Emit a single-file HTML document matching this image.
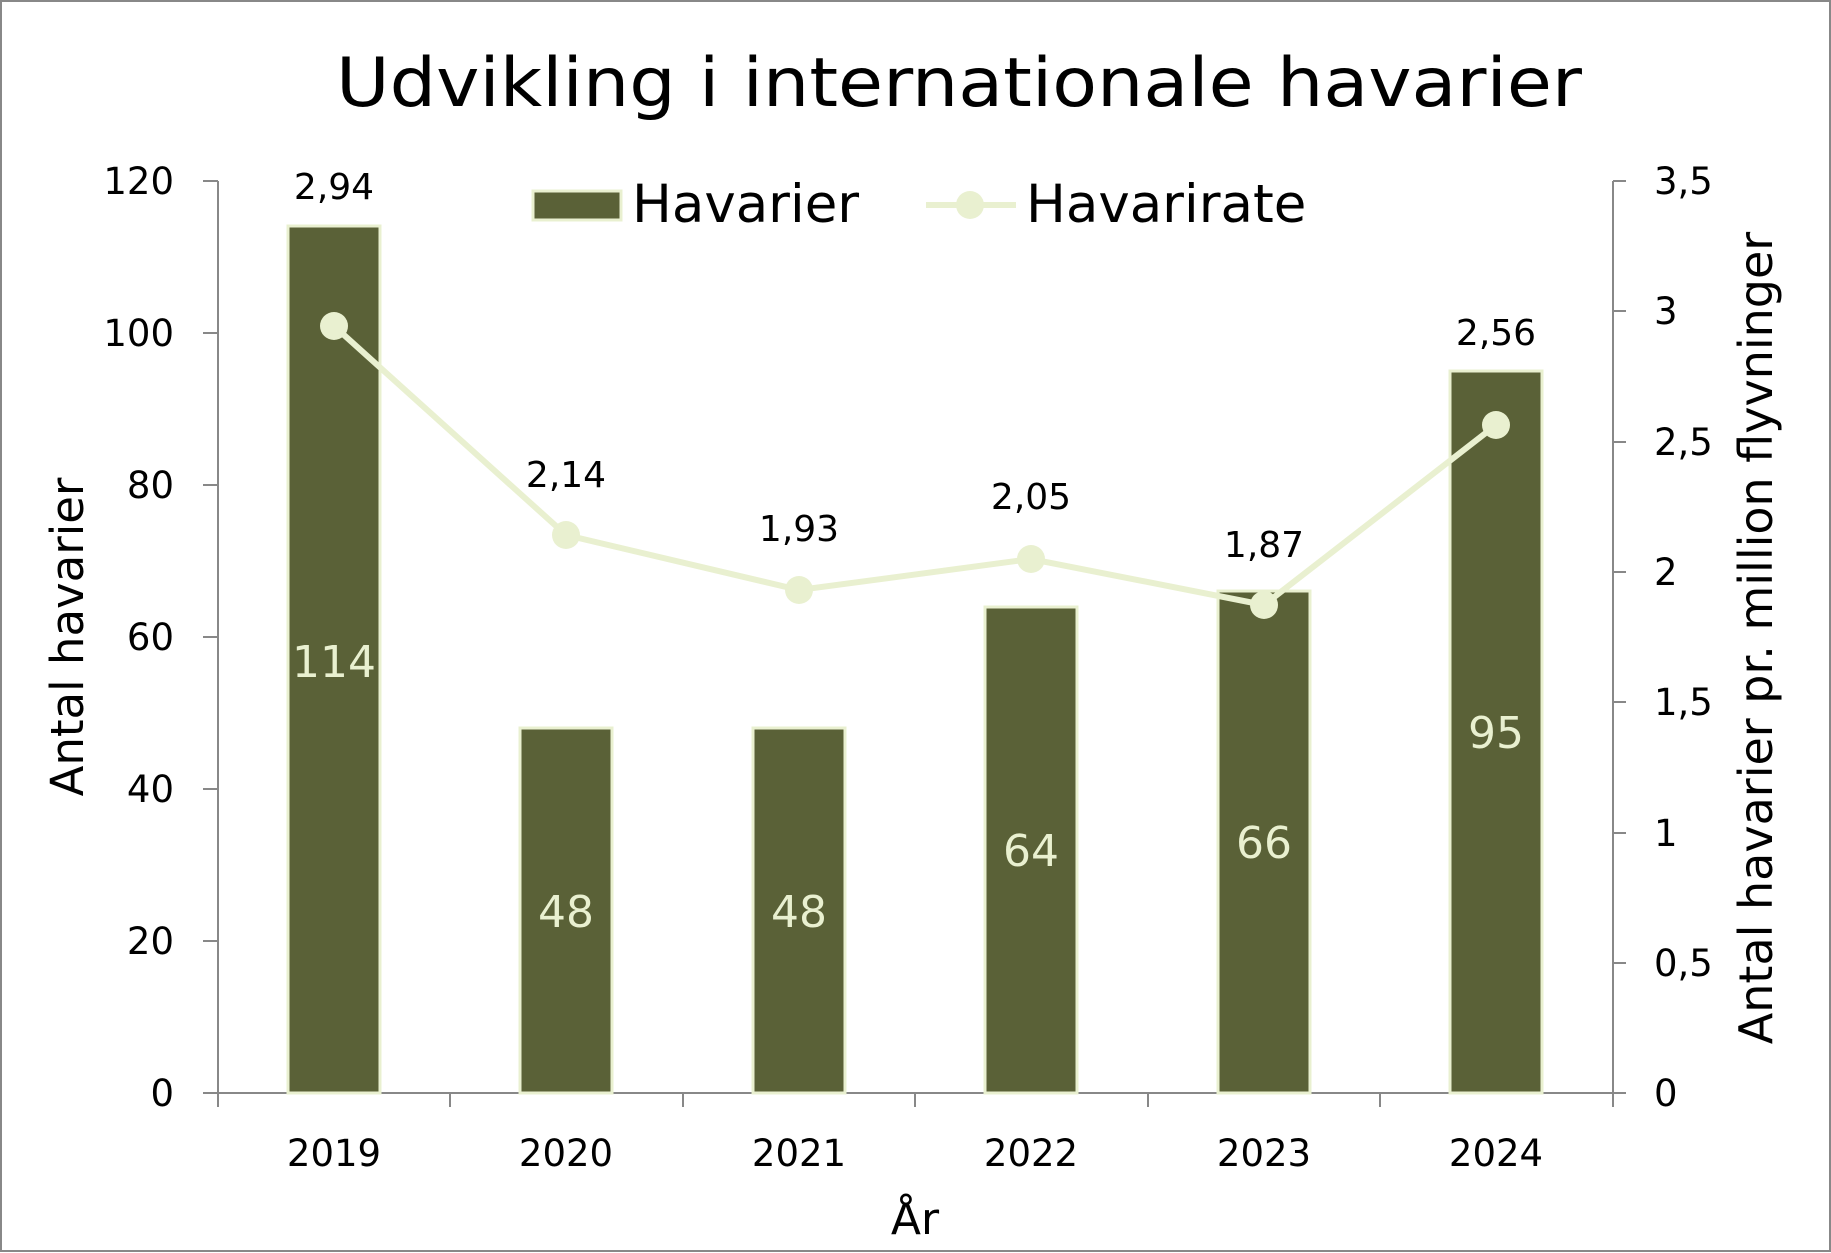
<!DOCTYPE html>
<html><head><meta charset="utf-8"><style>
html,body{margin:0;padding:0;background:#fff}
svg{display:block}
text{font-family:"DejaVu Sans","Liberation Sans",sans-serif}
</style></head><body>
<svg width="1831" height="1253" viewBox="0 0 1831 1253" xmlns="http://www.w3.org/2000/svg">
<rect x="1" y="1" width="1829" height="1250" fill="#fff" stroke="#888" stroke-width="2"/>
<text x="959" y="106" font-size="68" text-anchor="middle" textLength="1246" lengthAdjust="spacingAndGlyphs">Udvikling i internationale havarier</text>
<g stroke="#888" stroke-width="2">
<line x1="218" y1="181" x2="218" y2="1093"/>
<line x1="218" y1="1093" x2="1613" y2="1093"/>
<line x1="1613" y1="181" x2="1613" y2="1093"/>
<line x1="203" y1="1093" x2="218" y2="1093"/><line x1="203" y1="941" x2="218" y2="941"/><line x1="203" y1="789" x2="218" y2="789"/><line x1="203" y1="637" x2="218" y2="637"/><line x1="203" y1="485" x2="218" y2="485"/><line x1="203" y1="333" x2="218" y2="333"/><line x1="203" y1="181" x2="218" y2="181"/>
<line x1="1613" y1="1093" x2="1626" y2="1093"/><line x1="1613" y1="963" x2="1626" y2="963"/><line x1="1613" y1="833" x2="1626" y2="833"/><line x1="1613" y1="702" x2="1626" y2="702"/><line x1="1613" y1="572" x2="1626" y2="572"/><line x1="1613" y1="442" x2="1626" y2="442"/><line x1="1613" y1="311" x2="1626" y2="311"/><line x1="1613" y1="181" x2="1626" y2="181"/>
<line x1="218" y1="1093" x2="218" y2="1107"/><line x1="450" y1="1093" x2="450" y2="1107"/><line x1="683" y1="1093" x2="683" y2="1107"/><line x1="915" y1="1093" x2="915" y2="1107"/><line x1="1148" y1="1093" x2="1148" y2="1107"/><line x1="1380" y1="1093" x2="1380" y2="1107"/><line x1="1613" y1="1093" x2="1613" y2="1107"/>
</g>
<g font-size="37" text-anchor="end">
<text x="174" y="1106">0</text><text x="174" y="954">20</text><text x="174" y="802">40</text><text x="174" y="650">60</text><text x="174" y="498">80</text><text x="174" y="346">100</text><text x="174" y="194">120</text>
</g>
<g font-size="37">
<text x="1654" y="1106">0</text><text x="1654" y="976">0,5</text><text x="1654" y="846">1</text><text x="1654" y="715">1,5</text><text x="1654" y="585">2</text><text x="1654" y="455">2,5</text><text x="1654" y="324">3</text><text x="1654" y="194">3,5</text>
</g>
<g font-size="37" text-anchor="middle">
<text x="334" y="1166">2019</text><text x="566" y="1166">2020</text><text x="799" y="1166">2021</text><text x="1031" y="1166">2022</text><text x="1264" y="1166">2023</text><text x="1496" y="1166">2024</text>
</g>
<text x="915" y="1234" font-size="44" text-anchor="middle">År</text>
<text transform="translate(83,637) rotate(-90)" font-size="45" text-anchor="middle">Antal havarier</text>
<text transform="translate(1772,638) rotate(-90)" font-size="46" text-anchor="middle">Antal havarier pr. million flyvninger</text>
<g fill="#5a6137" stroke="#e9f0d0" stroke-width="3">
<rect x="288" y="226" width="92" height="867"/>
<rect x="520" y="728" width="92" height="365"/>
<rect x="753" y="728" width="92" height="365"/>
<rect x="985" y="607" width="92" height="486"/>
<rect x="1218" y="591" width="92" height="502"/>
<rect x="1450" y="371" width="92" height="722"/>
</g>
<g font-size="44" fill="#e9f0d0" text-anchor="middle">
<text x="334" y="677">114</text><text x="566" y="927">48</text><text x="799" y="927">48</text><text x="1031" y="866">64</text><text x="1264" y="858">66</text><text x="1496" y="748">95</text>
</g>
<polyline points="334,326 566,535 799,590 1031,559 1264,605 1496,425" fill="none" stroke="#e9f0d0" stroke-width="6"/>
<g fill="#e9f0d0">
<circle cx="334" cy="326" r="14"/><circle cx="566" cy="535" r="14"/><circle cx="799" cy="590" r="14"/><circle cx="1031" cy="559" r="14"/><circle cx="1264" cy="605" r="14"/><circle cx="1496" cy="425" r="14"/>
</g>
<g font-size="36" text-anchor="middle">
<text x="334" y="199">2,94</text><text x="566" y="487">2,14</text><text x="799" y="541">1,93</text><text x="1031" y="509">2,05</text><text x="1264" y="557">1,87</text><text x="1496" y="345">2,56</text>
</g>
<rect x="533" y="191" width="88" height="29" fill="#5a6137" stroke="#e9f0d0" stroke-width="3"/>
<text x="632" y="222" font-size="53">Havarier</text>
<line x1="926" y1="205" x2="1016" y2="205" stroke="#e9f0d0" stroke-width="6"/>
<circle cx="970" cy="205" r="14" fill="#e9f0d0"/>
<text x="1026" y="222" font-size="53">Havarirate</text>
</svg>
</body></html>
